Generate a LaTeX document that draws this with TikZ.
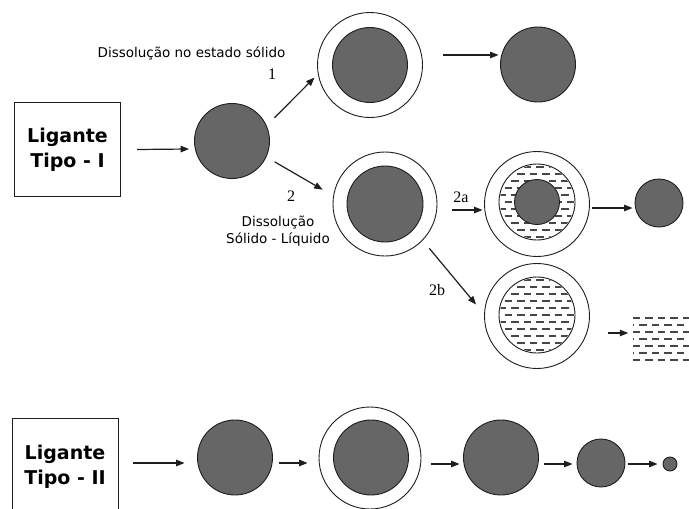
\documentclass[tikz,border=0pt]{standalone}
\usepackage{fontspec}
\setmainfont{DejaVu Sans}
\newfontfamily\numfont{Liberation Serif}
\usetikzlibrary{arrows.meta,calc}
\definecolor{grainfill}{RGB}{102,102,102}
\definecolor{inkline}{RGB}{30,30,30}
\definecolor{liquid}{RGB}{70,70,70}
\tikzset{
  grain/.style={circle, draw=inkline, line width=0.9pt, fill=grainfill, inner sep=0pt, minimum size=#1},
  shell/.style={circle, draw=inkline, line width=0.9pt, fill=white, inner sep=0pt, minimum size=#1},
  liqbound/.style={circle, draw=inkline, line width=0.9pt, inner sep=0pt, minimum size=#1},
  arr/.style={draw=inkline, line width=1.2pt, -{Triangle[length=8.5pt,width=6.5pt]}},
  ligbox/.style={draw=inkline, line width=1pt, minimum width=106pt, inner sep=0pt, align=center,
    font=\bfseries\fontsize{19}{25}\selectfont},
  lbl/.style={font=\fontsize{13.5}{17}\selectfont, align=center, inner sep=0pt},
  num/.style={font=\numfont\fontsize{16}{18}\selectfont, inner sep=0pt},
  hatch/.style={draw=liquid, line width=1.8pt, dash pattern=on 7.5pt off 5pt},
}
% horizontal dashed rows of liquid, clipped to a disc around a node
\newcommand{\liquiddisc}[3]{% node, clip radius, row range
  \begin{scope}
    \clip (#1.center) circle (#2);
    \foreach \k [evaluate=\k as \ph using {6*mod(abs(\k),2)}] in {#3}
      \draw[hatch, dash phase=\ph pt] ([shift={(-45pt,\k*7pt)}]#1.center) -- ++(90pt,0pt);
  \end{scope}}
\begin{document}
\begin{tikzpicture}[x=1pt,y=-1pt]
\useasboundingbox (0,0) rectangle (689,509);
\clip (0,0) rectangle (689,509);

% ---------- Ligante tipo I ----------
\node[ligbox, minimum height=94pt] (lig1) at (67.5,149.5) {Ligante\\Tipo - I};
\node[grain=75pt] (g0) at (232,141) {};

% route 1: solid-state dissolution
\node[shell=105pt] (s1) at (370,65) {};
\node[grain=75pt] (s1core) at (370,65) {};
\node[grain=75pt] (g1) at (538,64.5) {};

% route 2: solid-liquid dissolution
\node[shell=104pt] (s2) at (385,204) {};
\node[grain=76pt] (s2core) at (385,204) {};

% 2a
\node[shell=105pt] (s2a) at (537,204) {};
\node[liqbound=76pt] (s2aliq) at (537,202) {};
\liquiddisc{s2aliq}{37pt}{-5,...,5}
\node[grain=45pt] (s2acore) at (537,202) {};
\node[grain=48pt] (g2a) at (659,203) {};

% 2b
\node[shell=105pt] (s2b) at (537,316) {};
\node[liqbound=76pt] (s2bliq) at (537,315) {};
\liquiddisc{s2bliq}{37pt}{-5,...,5}

% liquid pool
\node[minimum width=56pt, minimum height=48pt, inner sep=0pt] (pool) at (661,339) {};
\begin{scope}
  \clip (pool.south west) rectangle (pool.north east);
  \foreach \k [evaluate=\k as \ph using {6*mod(\k,2)}] in {0,...,6}
    \draw[hatch, dash phase=\ph pt] ([shift={(0pt,-3pt-\k*7pt)}]pool.north west) -- ++(60pt,0pt);
\end{scope}

% labels
\node[lbl] (t1) at (191.5,53) {Dissolução no estado sólido};
\node[num] (n1) at (272,74) {1};
\node[num] (n2) at (291,196) {2};
\node[lbl] (t2) at (278,231) {Dissolução\\Sólido - Líquido};
\node[num] (n2a) at (461,197) {2a};
\node[num] (n2b) at (437,290) {2b};

% arrows, tipo I
\draw[arr] ([xshift=16pt]lig1.east) -- ([xshift=-5pt,yshift=-8pt]g0.west);
\draw[arr, shorten <=10.9pt, shorten >=4.75pt] (g0.24.2) -- (s1.190.6);
\draw[arr] ([xshift=20.5pt,yshift=10pt]s1.east) -- ([xshift=-1.5pt,yshift=9.5pt]g1.west);
\draw[arr, shorten <=9.5pt, shorten >=12.2pt] (g0.-25.8) -- (s2.171.3);
\draw[arr] ([xshift=15pt,yshift=-6pt]s2.east) -- ([xshift=-1.5pt,yshift=-6pt]s2a.west);
\draw[arr] ([xshift=2.5pt,yshift=-4pt]s2a.east) -- ([xshift=-2pt,yshift=-5pt]g2a.west);
\draw[arr, shorten <=10.3pt, shorten >=12.5pt] (s2.-44) -- (s2b.178.5);
\draw[arr] ([xshift=18.5pt,yshift=-17pt]s2b.east) -- ([xshift=-4.5pt,yshift=6pt]pool.west);

% ---------- Ligante tipo II ----------
\node[ligbox, minimum height=98pt] (lig2) at (65,467) {Ligante\\Tipo - II};
\node[grain=75pt] (b1) at (235,457.5) {};
\node[shell=102pt] (b2) at (370,458) {};
\node[grain=75pt] (b2core) at (371,457.5) {};
\node[grain=75pt] (b3) at (501,457.5) {};
\node[grain=48pt] (b4) at (601,463) {};
\node[grain=14pt] (b5) at (670,464) {};

\draw[arr] ([xshift=14pt,yshift=4pt]lig2.east) -- ([xshift=-12.5pt,yshift=-5.5pt]b1.west);
\draw[arr] ([xshift=6.5pt,yshift=-5.5pt]b1.east) -- ([xshift=-11pt,yshift=-5pt]b2.west);
\draw[arr] ([xshift=10pt,yshift=-6pt]b2.east) -- ([xshift=-3.5pt,yshift=-6.5pt]b3.west);
\draw[arr] ([xshift=5.5pt,yshift=-6.5pt]b3.east) -- ([xshift=-4pt,yshift=-1pt]b4.west);
\draw[arr] ([xshift=3pt,yshift=-1pt]b4.east) -- ([xshift=-5pt]b5.west);
\end{tikzpicture}
\end{document}
